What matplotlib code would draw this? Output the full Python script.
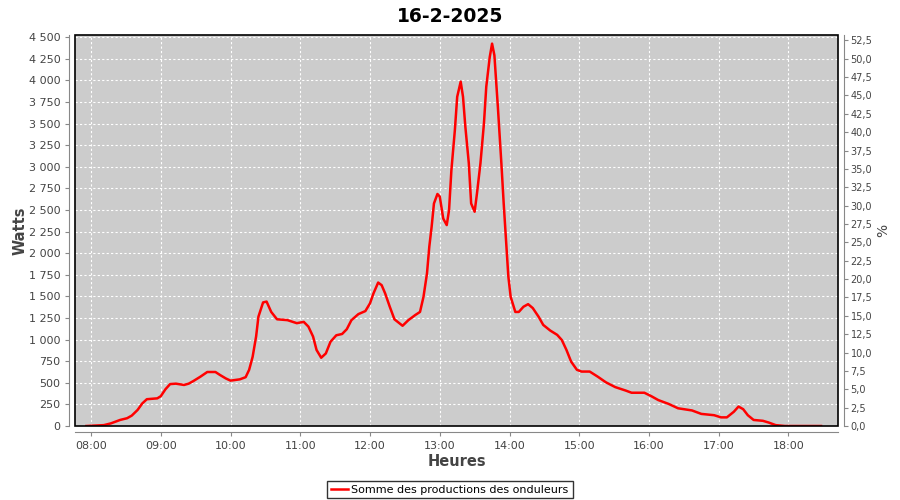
import matplotlib
matplotlib.use("Agg")
import matplotlib.pyplot as plt
from matplotlib.ticker import FixedLocator, FuncFormatter
from matplotlib.patches import Rectangle

title = "16-2-2025"
series_name = "Somme des productions des onduleurs"
times = ["07:56", "08:11", "08:17", "08:25", "08:31", "08:35", "08:40", "08:44", "08:48", "08:57",
         "09:00", "09:04", "09:08", "09:13", "09:20", "09:24", "09:28", "09:34", "09:40", "09:47",
         "09:51", "09:56", "10:00", "10:08", "10:13", "10:16", "10:19", "10:22", "10:24", "10:28",
         "10:31", "10:35", "10:40", "10:49", "10:57", "11:03", "11:07", "11:11", "11:14", "11:18",
         "11:22", "11:26", "11:31", "11:36", "11:40", "11:44", "11:50", "11:56", "12:00", "12:03",
         "12:07", "12:10", "12:13", "12:17", "12:21", "12:28", "12:33", "12:39", "12:43", "12:46",
         "12:49", "12:51", "12:53", "12:55", "12:58", "13:00", "13:03", "13:06", "13:08", "13:10",
         "13:13", "13:15", "13:18", "13:20", "13:22", "13:25", "13:27", "13:30", "13:32", "13:35",
         "13:38", "13:40", "13:43", "13:45", "13:47", "13:50", "13:53", "13:55", "13:57", "13:59",
         "14:01", "14:05", "14:08", "14:12", "14:16", "14:20", "14:25", "14:29", "14:35", "14:41",
         "14:45", "14:49", "14:53", "14:58", "15:02", "15:09", "15:16", "15:23", "15:31", "15:40",
         "15:45", "15:56", "16:02", "16:08", "16:17", "16:25", "16:37", "16:45", "16:56", "17:02",
         "17:07", "17:13", "17:17", "17:21", "17:25", "17:30", "17:38", "17:43", "17:49", "17:57",
         "18:28"]
watts = [0, 10, 30, 70, 90, 120, 185, 260, 310, 320,
         345, 425, 485, 490, 475, 490, 520, 570, 625, 625,
         590, 550, 525, 540, 565, 650, 800, 1035, 1265, 1430,
         1440, 1320, 1235, 1225, 1190, 1205, 1150, 1035, 880, 790,
         840, 975, 1050, 1065, 1120, 1225, 1295, 1330, 1420, 1535,
         1660, 1630, 1535, 1380, 1235, 1160, 1225, 1285, 1320, 1495,
         1765, 2075, 2305, 2575, 2685, 2655, 2400, 2325, 2500, 2960,
         3425, 3810, 3985, 3810, 3465, 3040, 2575, 2480, 2690, 3040,
         3500, 3925, 4270, 4425, 4290, 3690, 3040, 2575, 2150, 1730,
         1495, 1320, 1320, 1380, 1410, 1365, 1265, 1170, 1105, 1055,
         995, 880, 745, 650, 630, 630, 570, 505, 450, 410,
         385, 385, 345, 300, 255, 205, 180, 140, 125, 100,
         100, 165, 225, 195, 125, 70, 60, 40, 10, 0,
         0]
hour_ticks = ["08:00", "09:00", "10:00", "11:00", "12:00", "13:00", "14:00", "15:00", "16:00", "17:00", "18:00"]
watt_ticks = list(range(0, 4501, 250))
pct_ticks = [i * 2.5 for i in range(22)]
watts_per_pct = 85.0


def to_hours(s):
    h, m = s.split(":")
    return int(h) + int(m) / 60.0


x = [to_hours(t) for t in times]

fig = plt.figure(figsize=(9, 5), dpi=100)
ax = fig.add_axes([75 / 900, 1 - 426 / 500, (838 - 75) / 900, (426 - 35) / 500])
ax.set_facecolor("#cccccc")
ax.plot(x, watts, color="#ff0000", linewidth=1.8, label=series_name)

ax.set_xlim(7.77, 18.71)
ax.set_ylim(0, 4525)
ax.xaxis.set_major_locator(FixedLocator([to_hours(t) for t in hour_ticks]))
ax.xaxis.set_major_formatter(FuncFormatter(lambda v, p: "%02d:%02d" % (int(round(v * 60)) // 60, int(round(v * 60)) % 60)))
ax.yaxis.set_major_locator(FixedLocator(watt_ticks))
ax.yaxis.set_major_formatter(FuncFormatter(lambda v, p: "{:,}".format(int(v)).replace(",", " ")))
ax.grid(True, color="white", linestyle=(0, (2, 2)), linewidth=0.8)

gray = "#888888"
txt = "#444444"
for s in ["top", "right"]:
    ax.spines[s].set_visible(False)
ax.spines["left"].set_position(("outward", 4))
ax.spines["bottom"].set_position(("outward", 4))
ax.spines["left"].set_color(gray)
ax.spines["bottom"].set_color(gray)
ax.add_patch(Rectangle((0, 0), 1, 1, transform=ax.transAxes, fill=False,
                       edgecolor="black", linewidth=1.2, clip_on=False, zorder=5))
ax.tick_params(axis="both", colors=gray, labelcolor=txt, labelsize=8, length=3)

ax2 = ax.twinx()
ax2.set_ylim(0, 4525 / watts_per_pct)
ax2.yaxis.set_major_locator(FixedLocator(pct_ticks))
ax2.yaxis.set_major_formatter(FuncFormatter(lambda v, p: ("%.1f" % v).replace(".", ",")))
for s in ["top", "left", "bottom"]:
    ax2.spines[s].set_visible(False)
ax2.spines["right"].set_position(("outward", 4))
ax2.spines["right"].set_color(gray)
ax2.tick_params(axis="y", colors=gray, labelcolor=txt, labelsize=7, length=3, pad=2)
ax2.set_ylabel("%", color=txt, fontsize=10, labelpad=3)

ax.set_ylabel("Watts", color=txt, fontsize=10.5, fontweight="bold", labelpad=1)
ax.set_xlabel("Heures", color=txt, fontsize=10.5, fontweight="bold", labelpad=2.5)
fig.suptitle(title, y=0.985, fontsize=13.5, fontweight="bold")

leg = fig.legend(loc="lower center", bbox_to_anchor=(0.5, -0.008), fontsize=8, frameon=True,
                 fancybox=False, handlelength=1.5, borderpad=0.35, handletextpad=0.3)
leg.get_frame().set_edgecolor("black")
leg.get_frame().set_linewidth(1.0)

fig.savefig("out.png", dpi=100, facecolor="white")
